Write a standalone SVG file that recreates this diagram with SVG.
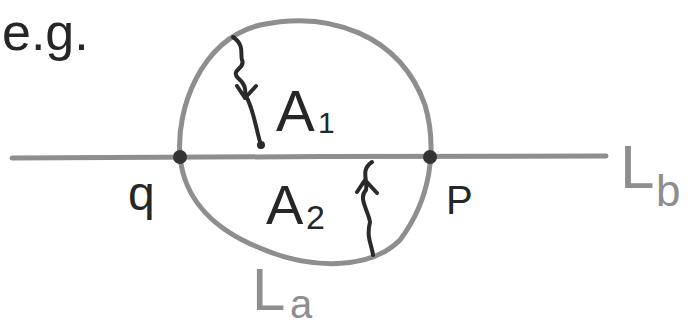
<svg xmlns="http://www.w3.org/2000/svg" width="699" height="327" viewBox="0 0 699 327">
<style>
.g{fill:none;stroke:#8e8e8e;stroke-width:5;stroke-linecap:round;stroke-linejoin:round}
.k{fill:none;stroke:#2a2a2a;stroke-width:4;stroke-linecap:round;stroke-linejoin:round}
.t{font-family:"Liberation Sans",Arial,sans-serif;fill:#262626}
.tg{font-family:"Liberation Sans",Arial,sans-serif;fill:#8e8e8e}
</style>
<rect width="699" height="327" fill="#fff"/>
<text class="t" x="2" y="50" font-size="52">e.g.</text>
<path class="g" d="M12,158 C150,157 450,156 606,156"/>
<path class="g" d="M180,156 C176,110 200,40 260,25 C330,10 400,35 425,105 C438,150 430,200 400,240 C370,270 310,270 260,248 C215,230 184,200 180,156"/>
<circle cx="180" cy="157" r="7" fill="#333"/>
<circle cx="430" cy="157" r="7" fill="#333"/>
<path class="k" d="M233,37 C245,45 240,55 242,60 C246,68 230,70 238,78 C245,84 246,88 245,98 M237,86 L245,98 L256,86 M246,96 C254,110 256,130 261,145"/>
<circle cx="261" cy="145" r="4" fill="#2a2a2a"/>
<text class="t" x="276" y="131" font-size="58">A</text>
<text class="t" x="318" y="133" font-size="30">1</text>
<path class="k" d="M372,162 C360,170 368,180 366,190 C358,198 368,210 370,222 C366,238 372,245 373,255 M357,192 L365,180 L377,193"/>
<text class="t" x="266" y="224" font-size="56">A</text>
<text class="t" x="306" y="229" font-size="34">2</text>
<text class="t" x="128" y="210" font-size="48">q</text>
<text class="t" x="446" y="214" font-size="40">P</text>
<text class="tg" x="620" y="188" font-size="62">L</text>
<text class="tg" x="656" y="206" font-size="44">b</text>
<text class="tg" x="252" y="310" font-size="60">L</text>
<text class="tg" x="290" y="318" font-size="40">a</text>
</svg>
